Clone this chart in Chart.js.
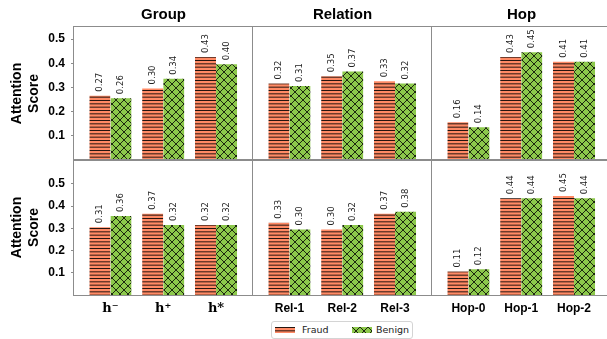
<!DOCTYPE html>
<html>
<head>
<meta charset="utf-8">
<script src="https://cdn.jsdelivr.net/npm/chart.js@4"></script>
<style>
  body { margin: 0; width: 607px; height: 339px; overflow: hidden; position: relative; background: #fff; }
  .panel { position: absolute; }
  #legend { position: absolute; left: 271px; top: 321px; width: 140px; height: 16px; border: 1px solid #d4d4d4; border-radius: 3px; font: 9.5px "DejaVu Sans"; color: #222; }
  #legend canvas, #legend span { position: absolute; }
</style>
</head>
<body>
<div id="legend">
  <canvas id="swFraud" width="20" height="6" style="left:3px;top:5px"></canvas>
  <span style="left:30px;top:2px">Fraud</span>
  <canvas id="swBenign" width="20" height="6" style="left:80px;top:5px"></canvas>
  <span style="left:104px;top:2px">Benign</span>
</div>
<script>
const series = ['Fraud', 'Benign'];
const panelTitles = ['Group', 'Relation', 'Hop'];
const groupLabels = ['h\u207B', 'h\u207A', 'h*'];
const relationLabels = ['Rel-1', 'Rel-2', 'Rel-3'];
const hopLabels = ['Hop-0', 'Hop-1', 'Hop-2'];
const yTicks = [0.1, 0.2, 0.3, 0.4, 0.5];

// top row
const groupFraudTop = [0.27, 0.30, 0.43];
const groupBenignTop = [0.26, 0.34, 0.40];
const relationFraudTop = [0.32, 0.35, 0.33];
const relationBenignTop = [0.31, 0.37, 0.32];
const hopFraudTop = [0.16, 0.43, 0.41];
const hopBenignTop = [0.14, 0.45, 0.41];
// bottom row
const groupFraudBottom = [0.31, 0.37, 0.32];
const groupBenignBottom = [0.36, 0.32, 0.32];
const relationFraudBottom = [0.33, 0.30, 0.37];
const relationBenignBottom = [0.30, 0.32, 0.38];
const hopFraudBottom = [0.11, 0.44, 0.45];
const hopBenignBottom = [0.12, 0.44, 0.44];

const fraudColor = '#FF8A65';
const benignColor = '#8CC84B';
const lineGray = '#8c8c8c';

function hatchLines(color) {
    const c = document.createElement('canvas');
    c.width = 10; c.height = 10;
    const g = c.getContext('2d');
    g.fillStyle = color;
    g.fillRect(0, 0, 10, 10);
    g.strokeStyle = 'rgba(0,0,0,0.85)';
    g.lineWidth = 1;
    [0.5, 3.83, 7.17].forEach(y => {
        g.beginPath(); g.moveTo(0, y); g.lineTo(10, y); g.stroke();
    });
    return g.createPattern(c, 'repeat');
}

function hatchCross(color) {
    const c = document.createElement('canvas');
    c.width = 8; c.height = 8;
    const g = c.getContext('2d');
    g.fillStyle = color;
    g.fillRect(0, 0, 8, 8);
    g.strokeStyle = 'rgba(0,0,0,0.8)';
    g.lineWidth = 1;
    g.beginPath();
    g.moveTo(-1, -1); g.lineTo(9, 9);
    g.moveTo(9, -1); g.lineTo(-1, 9);
    g.stroke();
    return g.createPattern(c, 'repeat');
}

const fraudFill = hatchLines(fraudColor);
const benignFill = hatchCross(benignColor);

// legend swatches
(function(){
    const a = document.getElementById('swFraud').getContext('2d');
    a.fillStyle = hatchLines(fraudColor); a.fillRect(0, 0, 20, 6);
    const b = document.getElementById('swBenign').getContext('2d');
    b.fillStyle = hatchCross(benignColor); b.fillRect(0, 0, 20, 6);
})();

const frame = {
    id: 'frame',
    afterDraw(chart) {
        const {ctx, chartArea: a} = chart;
        ctx.save();
        ctx.strokeStyle = lineGray;
        ctx.lineWidth = 1;
        ctx.strokeRect(a.left - 0.5, a.top - 0.5, a.right - a.left, a.bottom - a.top + 1);
        ctx.restore();
    }
};

const barLabels = {
    id: 'barLabels',
    afterDatasetsDraw(chart) {
        const ctx = chart.ctx;
        ctx.save();
        ctx.font = '8.5px "DejaVu Sans"';
        ctx.fillStyle = '#222';
        ctx.textAlign = 'left';
        ctx.textBaseline = 'middle';
        chart.data.datasets.forEach((ds, i) => {
            chart.getDatasetMeta(i).data.forEach((bar, j) => {
                ctx.save();
                ctx.translate(bar.x, bar.y - 3);
                ctx.rotate(-Math.PI / 2);
                ctx.fillText(ds.data[j].y.toFixed(2), 0, 0);
                ctx.restore();
            });
        });
        ctx.restore();
    }
};

const colLeft = [74, 253, 432];
const colW = 179;
const rows = [
    {top: 27, h: 133, max: 0.55, data: [[groupFraudTop, groupBenignTop], [relationFraudTop, relationBenignTop], [hopFraudTop, hopBenignTop]]},
    {top: 160, h: 135, max: 0.608, data: [[groupFraudBottom, groupBenignBottom], [relationFraudBottom, relationBenignBottom], [hopFraudBottom, hopBenignBottom]]}
];
const xLabels = [groupLabels, relationLabels, hopLabels];

rows.forEach((row, r) => {
    for (let c = 0; c < 3; c++) {
        const showX = r === 1;
        const showY = c === 0;
        const leftExtra = showY ? 74 : 2;
        const topExtra = r === 0 ? 27 : 2;
        const bottomExtra = showX ? 30 : 2;
        const box = document.createElement('div');
        box.className = 'panel';
        box.style.left = (colLeft[c] - leftExtra) + 'px';
        box.style.top = (row.top - topExtra) + 'px';
        box.style.width = (leftExtra + colW + 2) + 'px';
        box.style.height = (topExtra + row.h + bottomExtra) + 'px';
        const canvas = document.createElement('canvas');
        box.appendChild(canvas);
        document.body.appendChild(box);

        const labels = xLabels[c];
        const [fraud, benign] = row.data[c];
        new Chart(canvas, {
            type: 'bar',
            data: {
                datasets: [
                    {label: series[0], data: fraud.map((v, i) => ({x: i, y: v})), backgroundColor: fraudFill,
                     borderColor: 'rgba(255,255,255,0.55)', borderWidth: {top: 1, left: 0, right: 0, bottom: 0}},
                    {label: series[1], data: benign.map((v, i) => ({x: i, y: v})), backgroundColor: benignFill,
                     borderColor: 'rgba(255,255,255,0.45)', borderWidth: {top: 1, left: 0, right: 0, bottom: 0}}
                ]
            },
            options: {
                responsive: true,
                maintainAspectRatio: false,
                animation: false,
                devicePixelRatio: 1,
                categoryPercentage: 0.8,
                barPercentage: 1,
                layout: {padding: {left: showY ? 0 : 2, right: 2, top: r === 0 ? 0 : 2, bottom: showX ? 0 : 2}},
                plugins: {
                    legend: {display: false},
                    tooltip: {enabled: false},
                    title: {
                        display: r === 0,
                        text: panelTitles[c],
                        fullSize: false,
                        color: '#000',
                        font: {family: '"Liberation Sans", Arial', size: 15, weight: 'bold', lineHeight: 1.2},
                        padding: {top: 6, bottom: 3}
                    }
                },
                scales: {
                    x: {
                        type: 'linear',
                        min: -0.69,
                        max: 2.7,
                        offset: false,
                        display: showX,
                        grid: {display: false, drawTicks: false, offset: false},
                        border: {display: false},
                        afterBuildTicks: s => { s.ticks = labels.map((l, i) => ({value: i})); },
                        afterFit: s => { s.height = showX ? 30 : 0; s.paddingLeft = 0; s.paddingRight = 0; },
                        ticks: {
                            callback: (v, i) => labels[i],
                            color: '#000',
                            padding: 6,
                            maxRotation: 0,
                            autoSkip: false,
                            font: c === 0
                                ? {family: '"DejaVu Serif"', size: 13, weight: 'bold'}
                                : {family: '"Liberation Sans", Arial', size: 12, weight: 'bold'}
                        }
                    },
                    y: {
                        min: 0,
                        max: row.max,
                        display: showY,
                        afterBuildTicks: s => { s.ticks = yTicks.map(v => ({value: v})); },
                        afterFit: s => { s.width = showY ? 74 : 0; s.paddingTop = 0; s.paddingBottom = 0; },
                        grid: {drawOnChartArea: false, tickLength: 3, color: lineGray},
                        border: {display: false},
                        ticks: {
                            callback: v => v.toFixed(1),
                            color: '#000',
                            padding: 6,
                            font: {family: '"Liberation Sans", Arial', size: 12, weight: 'bold'}
                        },
                        title: {
                            display: true,
                            text: ['Attention', 'Score'],
                            color: '#000',
                            padding: {top: 9.5, bottom: 0},
                            font: {family: '"Liberation Sans", Arial', size: 14, weight: 'bold', lineHeight: 1.15}
                        }
                    }
                }
            },
            plugins: [frame, barLabels]
        });
    }
});
</script>
</body>
</html>
